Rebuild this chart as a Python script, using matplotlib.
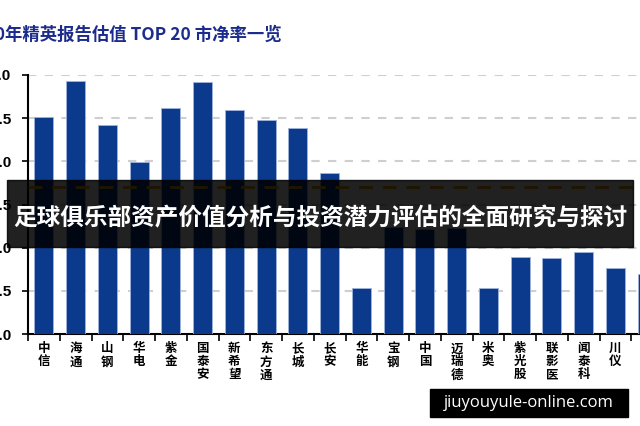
import numpy as np
import matplotlib
matplotlib.use('Agg')
import matplotlib.pyplot as plt
from matplotlib.patches import Rectangle

plt.rcParams['font.family'] = ['Noto Sans CJK SC', 'DejaVu Sans']

# Datos
titulo = '2020年精英报告估值 TOP 20 市净率一览'
banner = '足球俱乐部资产价值分析与投资潜力评估的全面研究与探讨'
marca = 'jiuyouyule-online.com'
nombres = ['中信', '海通', '山钢', '华电', '紫金', '国泰安', '新希望', '东方通',
           '长城', '长安', '华能', '宝钢', '中国', '迈瑞德', '米奥', '紫光股',
           '联影医', '闻泰科', '川仪', '兴业']
valores = [2.51, 2.93, 2.42, 1.99, 2.62, 2.92, 2.59, 2.48, 2.39, 1.86,
           0.53, 1.24, 1.22, 1.23, 0.53, 0.89, 0.88, 0.95, 0.76, 0.70]
promedio = 1.70
yticks = [0.0, 0.5, 1.0, 1.5, 2.0, 2.5, 3.0]

fig = plt.figure(figsize=(6.4, 4.26), dpi=100)
ax = fig.add_axes([28 / 640, 92 / 426, 635 / 640, 259 / 426])

x = np.arange(len(valores))
ax.bar(x, valores, width=0.6, color='#0b3a8d', edgecolor='#9fb4dc', linewidth=0.6, zorder=3)
ax.axhline(promedio, color='#e3a400', linestyle=(0, (5, 3.5)), linewidth=2, zorder=4)

ax.set_xlim(-0.5, len(valores) - 0.5)
ax.set_ylim(0, 3.0)
ax.set_yticks(yticks)
ax.set_yticklabels([f'{v:.1f}' for v in yticks], fontsize=11, fontweight='bold',
                   family='Liberation Sans')
ax.tick_params(axis='y', direction='out', length=4, width=1.2, pad=8)

ax.set_xticks(np.arange(-0.5, len(valores)), minor=False)
ax.set_xticklabels([])
ax.set_xticks(x, minor=True)
ax.set_xticklabels(['\n'.join(n) for n in nombres], minor=True, fontsize=9,
                   fontweight='bold', linespacing=1.0, va='top')
ax.tick_params(axis='x', which='major', direction='out', length=5, width=1.2)
ax.tick_params(axis='x', which='minor', length=0, pad=6)

for v in yticks[1:]:
    ax.axhline(v, color='#cfcfcf', linestyle=(0, (4, 4)), linewidth=1.5, zorder=1)

for s in ['top', 'right']:
    ax.spines[s].set_visible(False)
for s in ['left', 'bottom']:
    ax.spines[s].set_linewidth(1.5)

fig.text(-0.056, 0.918, titulo, fontsize=12.5, fontweight='heavy', color='#1b2c8c',
         ha='left', va='center')

# Banner superpuesto
fig.add_artist(Rectangle((7 / 640, 179 / 426), 626 / 640, 67 / 426,
                         transform=fig.transFigure, color='black', alpha=0.87, zorder=10))
fig.text(0.5, 0.488, banner, fontsize=17, fontweight='bold', color='white',
         ha='center', va='center', zorder=11)

# Marca de agua
fig.add_artist(Rectangle((430 / 640, 9 / 426), 198 / 640, 28 / 426,
                         transform=fig.transFigure, color='black', zorder=10))
fig.text(529 / 640, 23 / 426, marca, fontsize=12, color='white', family='Open Sans',
         ha='center', va='center', zorder=11)

fig.savefig('out.png', dpi=100)
